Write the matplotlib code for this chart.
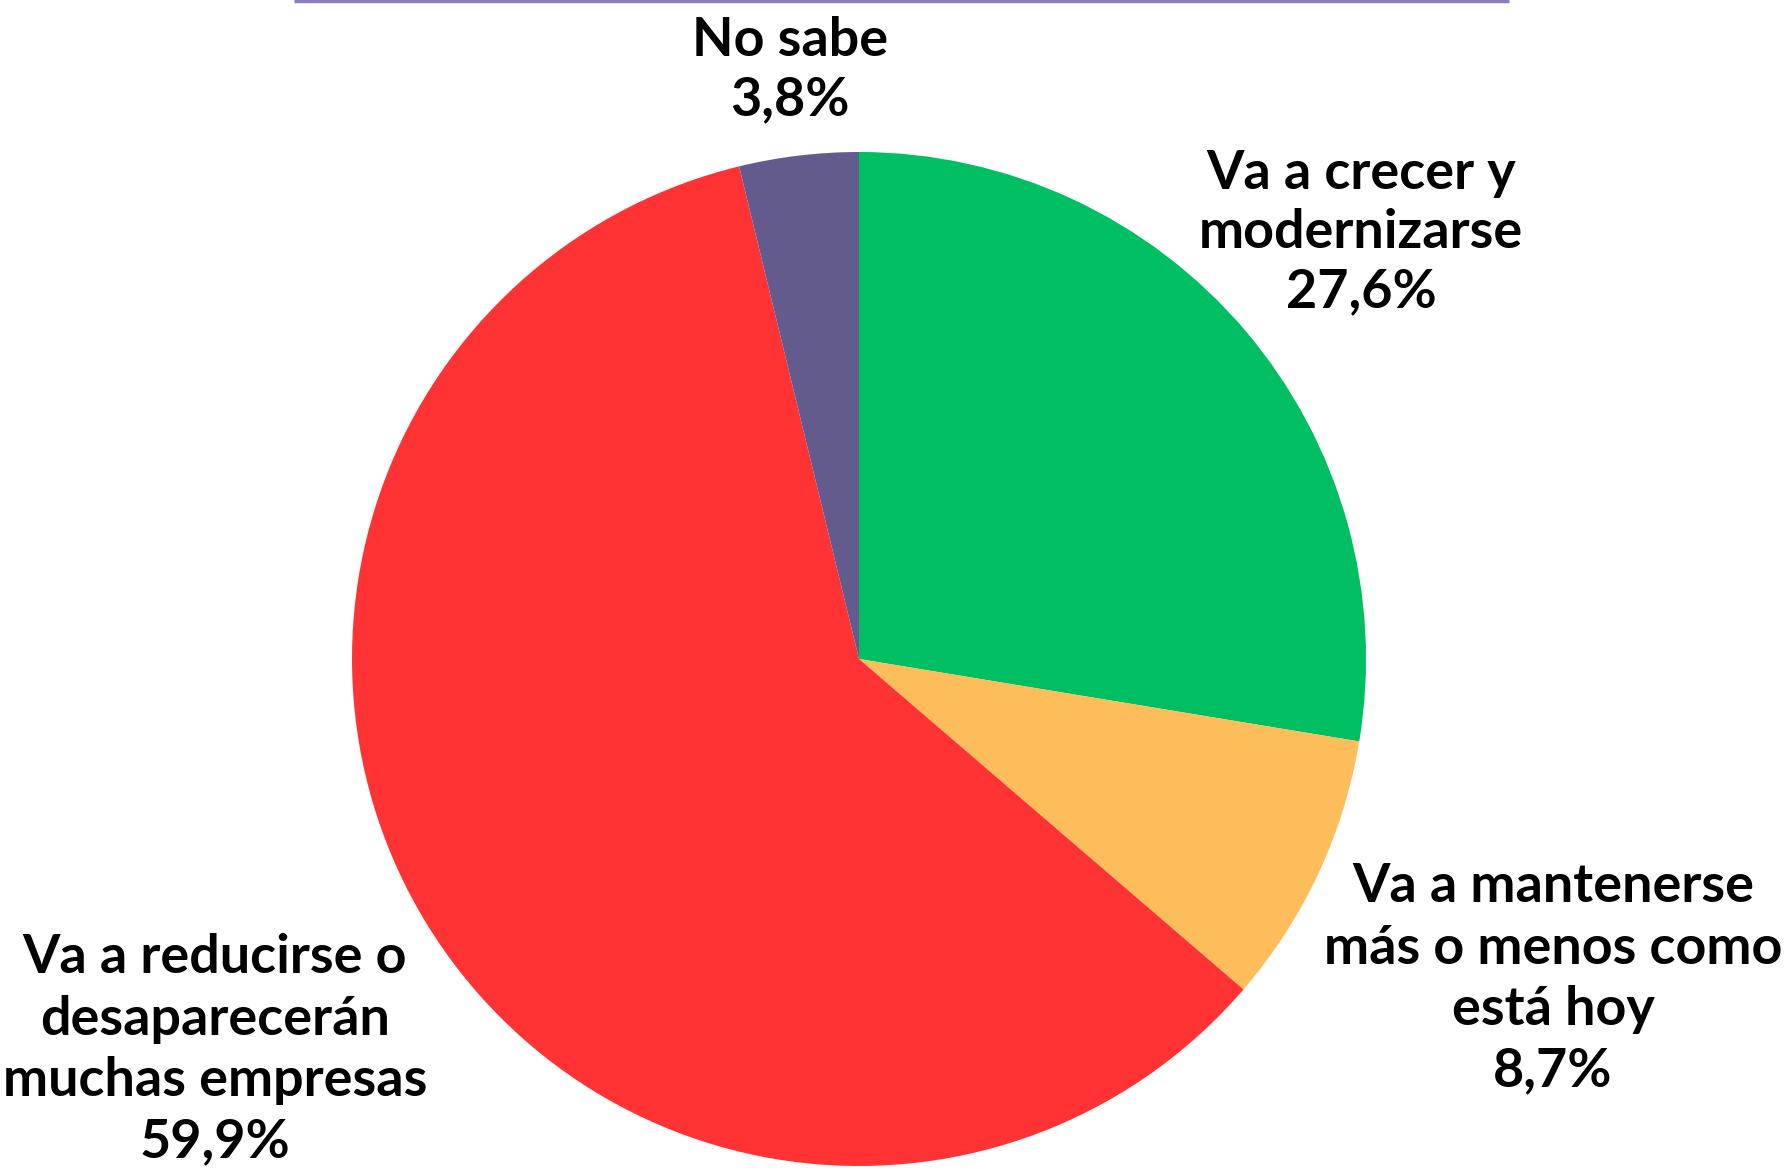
import matplotlib.pyplot as plt

plt.rcParams['font.family'] = ['Lato', 'DejaVu Sans']

labels = ['Va a crecer y\nmodernizarse', 'Va a mantenerse\nmás o menos como\nestá hoy',
          'Va a reducirse o\ndesaparecerán\nmuchas empresas', 'No sabe']
values = [27.6, 8.7, 59.9, 3.8]
colors = ['#00BF63', '#FDBD5A', '#FF3333', '#635B8E']

W, H = 1791, 1172
fig = plt.figure(figsize=(W / 100, H / 100), dpi=100)
ax = fig.add_axes([0, 0, 1, 1])

cx, cy, r = 859, H - 659, 507
ax.pie(values, colors=colors, startangle=90, counterclock=False,
       center=(cx, cy), radius=r, frame=True,
       wedgeprops=dict(linewidth=0))
ax.set_xlim(0, W)
ax.set_ylim(0, H)
ax.set_aspect('equal')
ax.axis('off')

# label positions in pixels from top-left
label_pos = [(1361, 233), (1553, 979), (215, 1050), (790, 70)]
spacing = [1.25, 1.31, 1.31, 1.24]
for lab, v, (x, y), ls in zip(labels, values, label_pos, spacing):
    txt = lab + '\n' + f'{v:.1f}'.replace('.', ',') + '%'
    ax.text(x, H - y, txt, ha='center', va='center', multialignment='center',
            fontsize=38.8, fontweight='bold', linespacing=ls, color='black')

# thin purple rule at the top
ax.plot([294, 1509], [H - 1, H - 1], color='#8E7CC3', linewidth=2.5, solid_capstyle='butt')

fig.savefig('out.png', dpi=100)
